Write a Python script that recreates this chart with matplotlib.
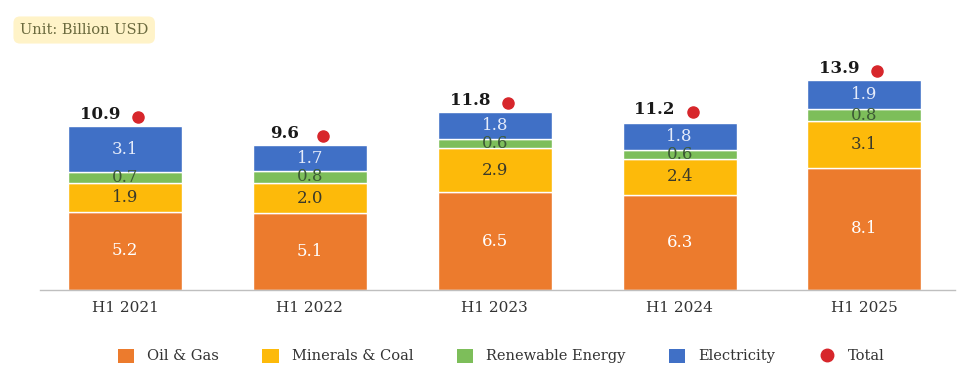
import matplotlib
matplotlib.use("Agg")
import matplotlib.pyplot as plt
from matplotlib.lines import Line2D
from matplotlib.patches import Patch
import numpy as np

categories = ["H1 2021", "H1 2022", "H1 2023", "H1 2024", "H1 2025"]
oil_gas = [5.2, 5.1, 6.5, 6.3, 8.1]
minerals_coal = [1.9, 2.0, 2.9, 2.4, 3.1]
renewable = [0.7, 0.8, 0.6, 0.6, 0.8]
electricity = [3.1, 1.7, 1.8, 1.8, 1.9]
totals = [10.9, 9.6, 11.8, 11.2, 13.9]

series_names = ["Oil & Gas", "Minerals & Coal", "Renewable Energy", "Electricity"]
colors = ["#EC7B2D", "#FDBA0A", "#7DBE5A", "#4070C6"]
label_colors = ["#FFFFFF", "#3a3a2a", "#3d5a35", "#E6ECFA"]

plt.rcParams['font.family'] = ['DejaVu Serif']

fig = plt.figure(figsize=(9.64, 3.67), dpi=100)
ax = fig.add_axes([40/964, 1-290/367, 915/964, 230/367])

x = np.arange(len(categories))
width = 0.616
bottom = np.zeros(len(categories))
data = [oil_gas, minerals_coal, renewable, electricity]
for vals, c, lc in zip(data, colors, label_colors):
    vals = np.array(vals)
    ax.bar(x, vals, width, bottom=bottom, color=c, edgecolor="white", linewidth=1.0)
    for xi, b, v in zip(x, bottom, vals):
        ax.text(xi, b + v/2, f"{v:.1f}", ha="center", va="center", fontsize=12, color=lc)
    bottom += vals

for xi, t in zip(x, totals):
    ax.plot(xi + 0.07, t + 0.6, 'o', color="#D7262B", markersize=8)
    ax.text(xi - 0.135, t + 0.2, f"{t:.1f}", ha="center", va="bottom", fontsize=12,
            fontweight="bold", color="#1a1a1a")

ax.set_xlim(-0.46, 4.49)
ax.set_ylim(0, 15.26)
ax.set_xticks(x)
ax.set_xticklabels(categories, fontsize=11, color="#333333")
ax.tick_params(axis='x', length=0, pad=8)
ax.set_yticks([])
for s in ["top", "right", "left"]:
    ax.spines[s].set_visible(False)
ax.spines["bottom"].set_color("#BFBFBF")
ax.spines["bottom"].set_linewidth(1.0)

# Unit box
fig.text(20/964, 1-30/367, "Unit: Billion USD", fontsize=10.5, color="#6B6A3E",
         va="center", ha="left",
         bbox=dict(boxstyle="round,pad=0.45", facecolor="#FFF3C8", edgecolor="none"))

handles = [Patch(facecolor=c, edgecolor="none") for c in colors]
handles.append(Line2D([], [], marker='o', color="none", markerfacecolor="#D7262B",
                      markeredgecolor="#D7262B", markersize=9))
leg = fig.legend(handles, series_names + ["Total"], loc="center", ncol=5,
                 bbox_to_anchor=(0.52, 1-356/367), frameon=False, fontsize=10.5,
                 handlelength=1.1, handleheight=1.1, columnspacing=3.0, handletextpad=0.9)
for t in leg.get_texts():
    t.set_color("#333333")

fig.savefig("out.png", dpi=100)
